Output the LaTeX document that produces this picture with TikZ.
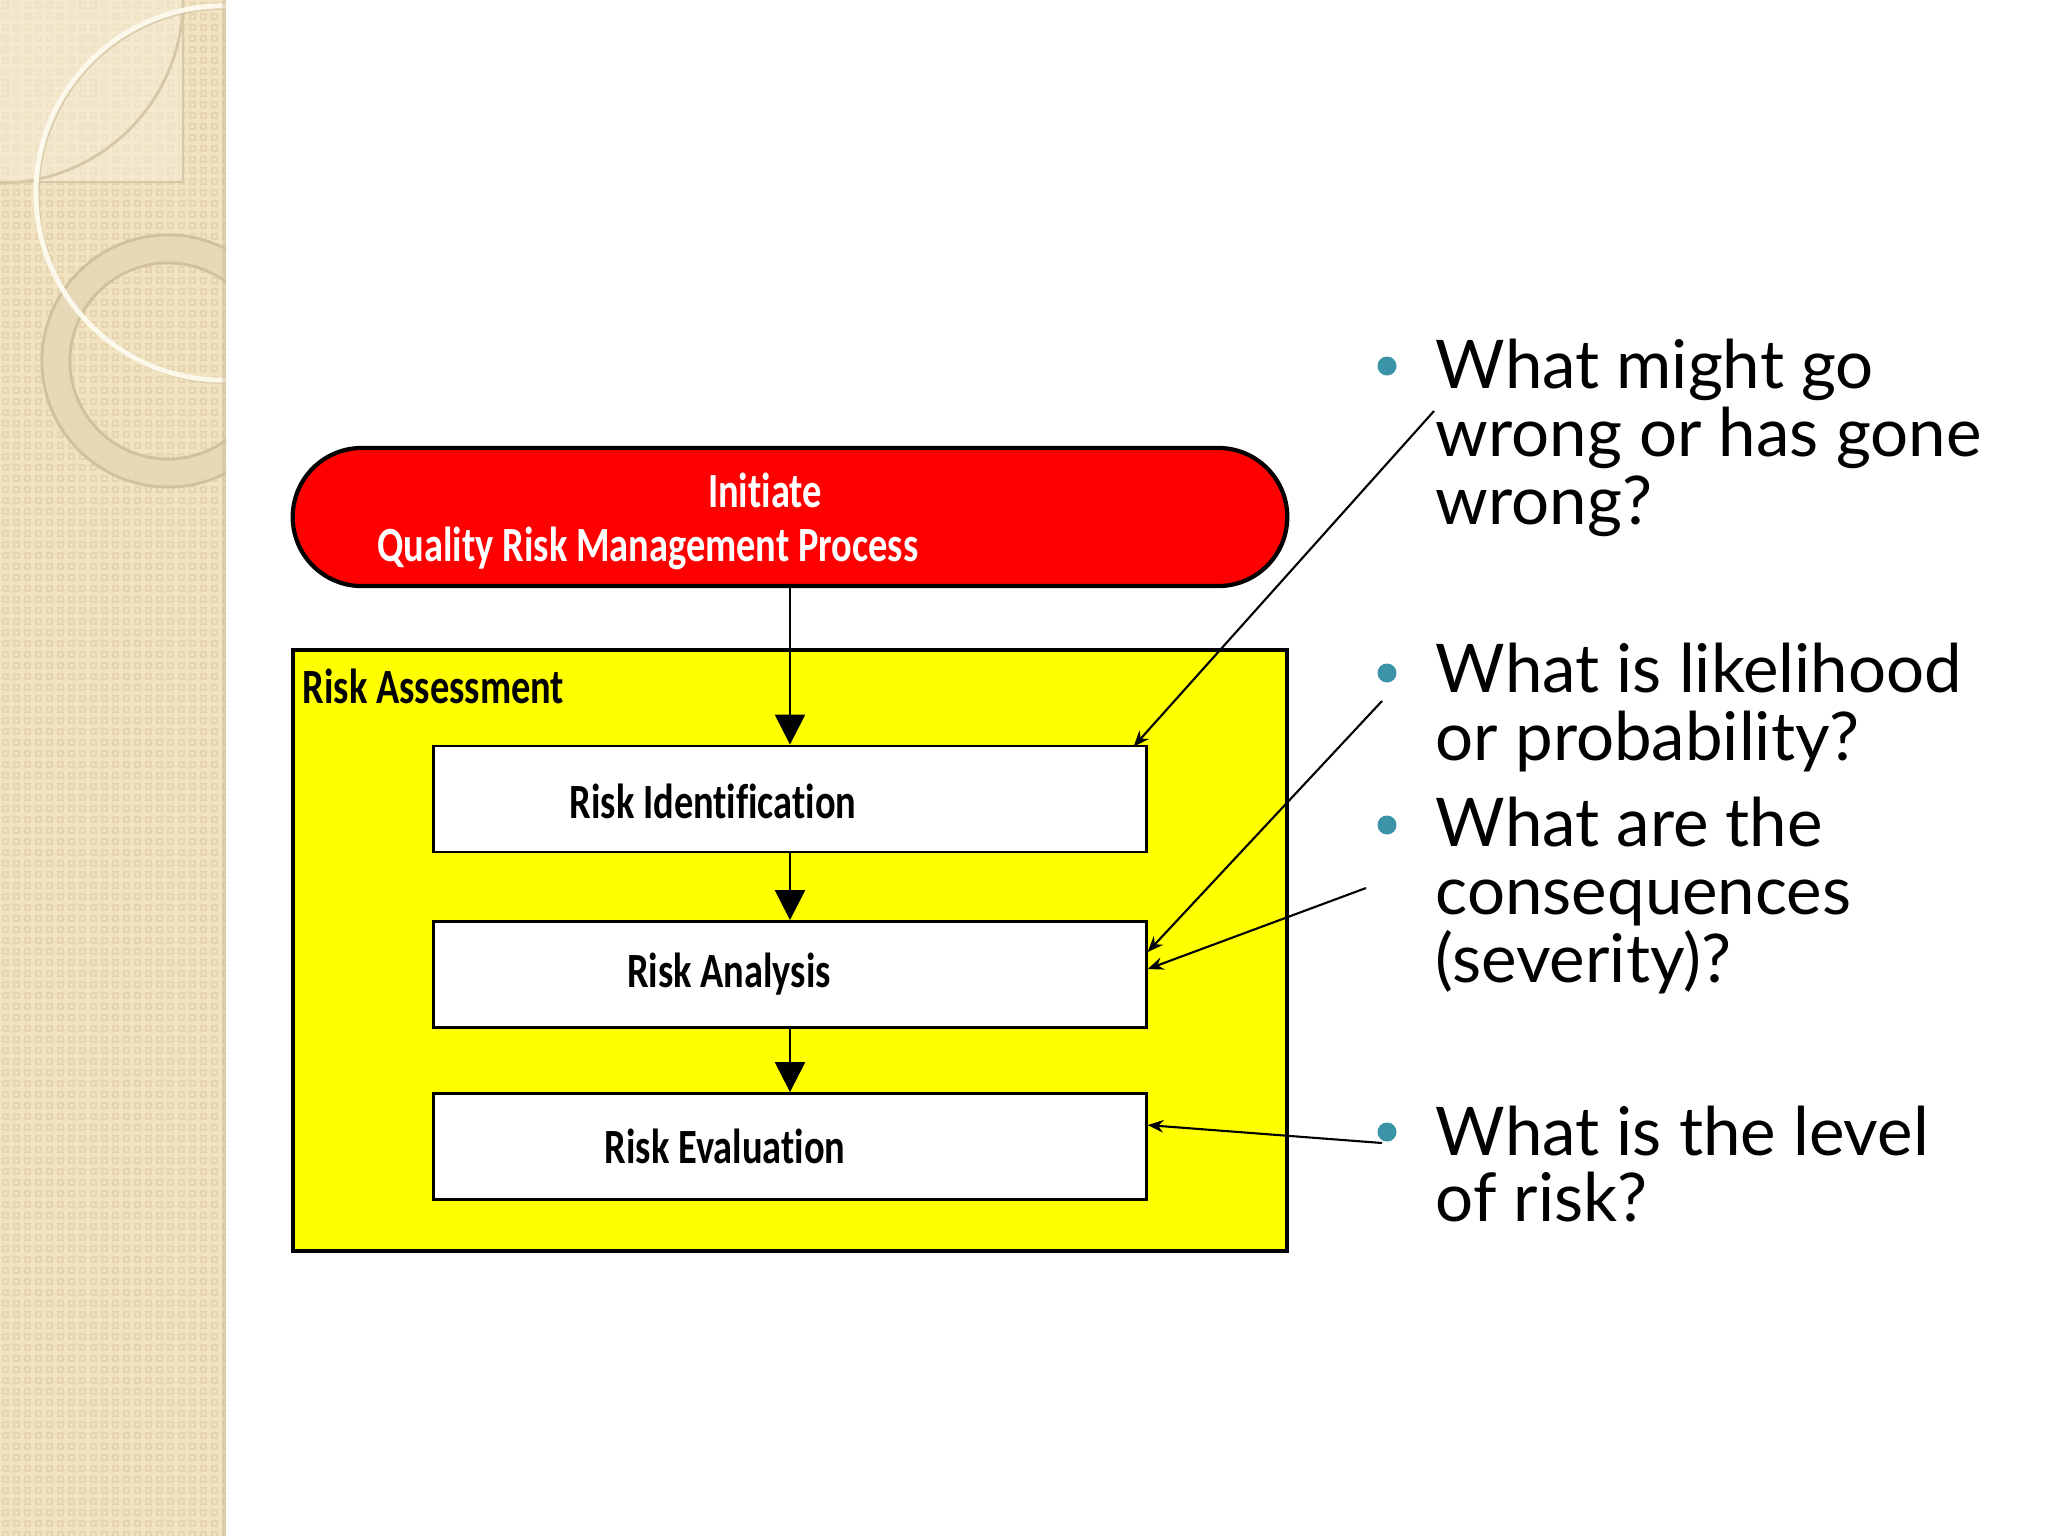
\documentclass[tikz,border=0pt]{standalone}
\usepackage{fontspec}
\setmainfont{Lato}
\newfontfamily\boxfont[FakeStretch=0.78, Ligatures=NoCommon]{Carlito}
\usetikzlibrary{arrows.meta,calc}
\definecolor{bandbg}{RGB}{241,226,194}
\definecolor{bandsq}{RGB}{230,212,174}
\definecolor{bandlight}{RGB}{246,237,215}
\definecolor{bandarc}{RGB}{214,200,166}
\definecolor{ringfill}{RGB}{230,216,184}
\definecolor{ringedge}{RGB}{208,192,155}
\definecolor{creamline}{RGB}{252,248,236}
\definecolor{dotteal}{RGB}{58,147,166}
\definecolor{pureyellow}{RGB}{255,255,0}
\definecolor{purered}{RGB}{255,0,0}
\tikzset{
  redterm/.style={draw=black, line width=1.2pt, fill=purered, rounded corners=0.69cm,
    minimum width=9.94cm, minimum height=1.38cm, inner sep=0pt},
  yellowbox/.style={draw=black, line width=1.2pt, fill=pureyellow,
    minimum width=9.94cm, minimum height=6.01cm, inner sep=0pt},
  stepbox/.style={draw=black, line width=0.8pt, fill=white,
    minimum width=7.12cm, minimum height=1.06cm, inner sep=0pt},
  boxlbl/.style={font=\boxfont\bfseries\fontsize{14pt}{15pt}\selectfont, inner sep=0pt},
  whitelbl/.style={boxlbl, text=white},
  varrow/.style={line width=0.7pt, -{Triangle[length=8.5pt,width=8.5pt]}},
  darrow/.style={line width=0.6pt, -{Stealth[length=4.5pt,width=3.6pt]}},
  bullettxt/.style={font=\fontsize{19.1pt}{19.35pt}\selectfont, anchor=base west, inner sep=0pt},
  bdot/.style={circle, fill=dotteal, minimum size=0.19cm, inner sep=0pt}
}
\begin{document}
\begin{tikzpicture}[x=0.01cm,y=-0.01cm]
\useasboundingbox (0,0) rectangle (2048,1536);
\fill[white] (0,0) rectangle (2048,1536);
% decorative band
\begin{scope}
\clip (0,0) rectangle (226,1536);
\fill[bandbg] (0,0) rectangle (226,1536);
\draw[bandsq, line width=0.5pt] \foreach \i in {0,...,20} { \foreach \j in {0,...,139} { (\i*11+3,\j*11+3) rectangle ++(5,5) } };
\fill[bandlight, opacity=0.6] (0,0) rectangle (183,182);
\draw[bandarc, line width=0.6pt] (183,0) -- (183,182) -- (0,182);
\draw[bandarc, line width=0.8pt] (183,0) arc[start angle=0, end angle=-90, radius=1.83cm];
\fill[ringfill, even odd rule, opacity=0.9] (168,361) circle[radius=1.26cm] (168,361) circle[radius=0.98cm];
\draw[ringedge, line width=0.8pt] (168,361) circle[radius=1.26cm] (168,361) circle[radius=0.98cm];
\draw[ringedge, line width=1.0pt, opacity=0.6] (225,195) circle[radius=1.87cm];
\draw[creamline, line width=1.4pt] (223,193) circle[radius=1.87cm];
\fill[ringedge, opacity=0.5] (222,0) rectangle (226,1536);
\end{scope}
% flowchart
\node[redterm] (init) at (790,517) {};
\node[whitelbl] (initA) at (765,490) {Initiate};
\node[whitelbl] (initB) at (648,548) {Quality Risk Management Process};
\node[yellowbox] (assess) at (790,950.5) {};
\node[boxlbl, anchor=west] (assessl) at (302,686) {Risk Assessment};
\node[stepbox] (ri) at (790,799) {};
\node[stepbox] (ra) at (790,974.5) {};
\node[stepbox] (re) at (790,1146.5) {};
\node[boxlbl] (ril) at (713,801) {Risk Identification};
\node[boxlbl] (ral) at (729,974) {Risk Analysis};
\node[boxlbl] (rel) at (725,1146) {Risk Evaluation};
\draw[varrow] (init.south) -- (ri.north);
\draw[varrow] (ri.south) -- (ra.north);
\draw[varrow] (ra.south) -- (re.north);
% bullets
\node[bdot] (d1) at (1387,366) {};
\node[bdot] (d2) at (1387,673) {};
\node[bdot] (d3) at (1387,825) {};
\node[bdot] (d4) at (1387,1132) {};
\node[bullettxt] (b1a) at (1435,388) {What might go};
\node[bullettxt] (b1b) at (1435,456) {wrong or has gone};
\node[bullettxt] (b1c) at (1435,524) {wrong?};
\node[bullettxt] (b2a) at (1435,692) {What is likelihood};
\node[bullettxt] (b2b) at (1435,760) {or probability?};
\node[bullettxt] (b3a) at (1435,846) {What are the};
\node[bullettxt] (b3b) at (1435,914) {consequences};
\node[bullettxt] (b3c) at (1435,982) {(severity)?};
\node[bullettxt] (b4a) at (1435,1155) {What is the level};
\node[bullettxt] (b4b) at (1435,1221) {of risk?};
% connectors from questions
\coordinate (c1) at (1434,411);
\coordinate (c2) at (1382,701);
\coordinate (c3) at (1366,888);
\coordinate (c4) at (1382,1143);
\draw[darrow] (c1) -- ($(ri.north east)+(-14,2)$);
\draw[darrow] (c2) -- ($(ra.north east)+(0,32)$);
\draw[darrow] (c3) -- ($(ra.north east)+(0,49)$);
\draw[darrow] (c4) -- ($(re.north east)+(0,33)$);
\end{tikzpicture}
\end{document}
